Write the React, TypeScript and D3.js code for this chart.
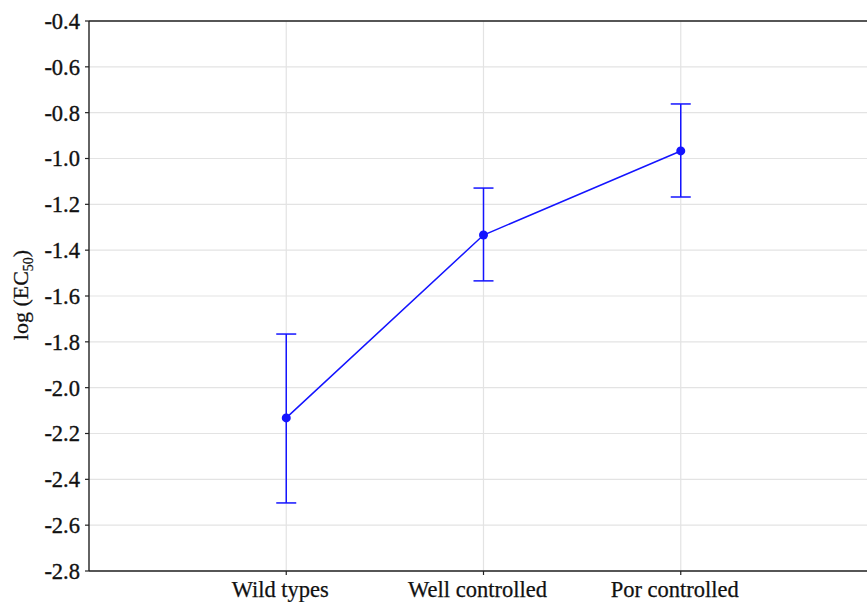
import React from "react";
import * as d3 from "d3";

const categories = ["Wild types", "Well controlled", "Por controlled"];
const means = [-2.132, -1.334, -0.967];
const upper = [-1.766, -1.129, -0.762];
const lower = [-2.503, -1.534, -1.168];
const yTicks = [-0.4, -0.6, -0.8, -1.0, -1.2, -1.4, -1.6, -1.8, -2.0, -2.2, -2.4, -2.6, -2.8];

const W = 867;
const H = 602;
const left = 89;
const top = 21;
const bottom = 571;
const right = 878;

export default function App() {
  const x = d3.scaleLinear().domain([0, 4]).range([left, right]);
  const y = d3.scaleLinear().domain([-2.8, -0.4]).range([bottom, top]);
  const line = d3
    .line<number>()
    .x((_, i) => x(i + 1))
    .y((d) => y(d));
  const blue = "#1414ff";
  const tf: React.CSSProperties = { fontFamily: "'Liberation Serif', 'Times New Roman', serif" };
  return (
    <svg
      width={W}
      height={H}
      style={{ position: "absolute", left: 0, top: 0, background: "#fff" }}
    >
      <rect x={0} y={0} width={W} height={H} fill="#fff" />
      {yTicks.map((t) => (
        <line key={"gy" + t} x1={left} x2={W} y1={y(t)} y2={y(t)} stroke="#e3e3e3" strokeWidth={1.2} />
      ))}
      {categories.map((c, i) => (
        <line key={"gx" + c} x1={x(i + 1)} x2={x(i + 1)} y1={top} y2={bottom} stroke="#e3e3e3" strokeWidth={1.2} />
      ))}
      <line x1={left} x2={W} y1={top} y2={top} stroke="#222" strokeWidth={1.4} />
      <line x1={left} x2={W} y1={bottom} y2={bottom} stroke="#222" strokeWidth={1.4} />
      <line x1={left} x2={left} y1={top} y2={bottom} stroke="#222" strokeWidth={1.4} />
      {yTicks.map((t) => (
        <g key={"ty" + t}>
          <line x1={left - 4} x2={left} y1={y(t)} y2={y(t)} stroke="#222" strokeWidth={1.2} />
          <text x={80} y={y(t)} dy="0.35em" textAnchor="end" fontSize={22.5} fill="#111" stroke="#111" strokeWidth={0.35} style={tf}>
            {t.toFixed(1)}
          </text>
        </g>
      ))}
      {categories.map((c, i) => (
        <g key={"tx" + c}>
          <line x1={x(i + 1)} x2={x(i + 1)} y1={bottom} y2={bottom + 4} stroke="#222" strokeWidth={1.2} />
          <text x={x(i + 1) - 6} y={597} textAnchor="middle" fontSize={22.5} fill="#111" stroke="#111" strokeWidth={0.25} style={tf}>
            {c}
          </text>
        </g>
      ))}
      <text transform={`translate(28,${295}) rotate(-90)`} textAnchor="middle" fontSize={22} fill="#111" stroke="#111" strokeWidth={0.25} style={tf}>
        log (EC<tspan fontSize={14} dy={5}>50</tspan>
        <tspan dy={-5}>)</tspan>
      </text>
      {categories.map((c, i) => {
        const cx = x(i + 1);
        return (
          <g key={"eb" + c} stroke={blue} strokeWidth={1.5}>
            <line x1={cx} x2={cx} y1={y(upper[i])} y2={y(lower[i])} />
            <line x1={cx - 10} x2={cx + 10} y1={y(upper[i])} y2={y(upper[i])} />
            <line x1={cx - 10} x2={cx + 10} y1={y(lower[i])} y2={y(lower[i])} />
          </g>
        );
      })}
      <path d={line(means) || ""} fill="none" stroke={blue} strokeWidth={1.5} />
      {means.map((m, i) => (
        <circle key={"pt" + i} cx={x(i + 1)} cy={y(m)} r={4.5} fill={blue} />
      ))}
    </svg>
  );
}
